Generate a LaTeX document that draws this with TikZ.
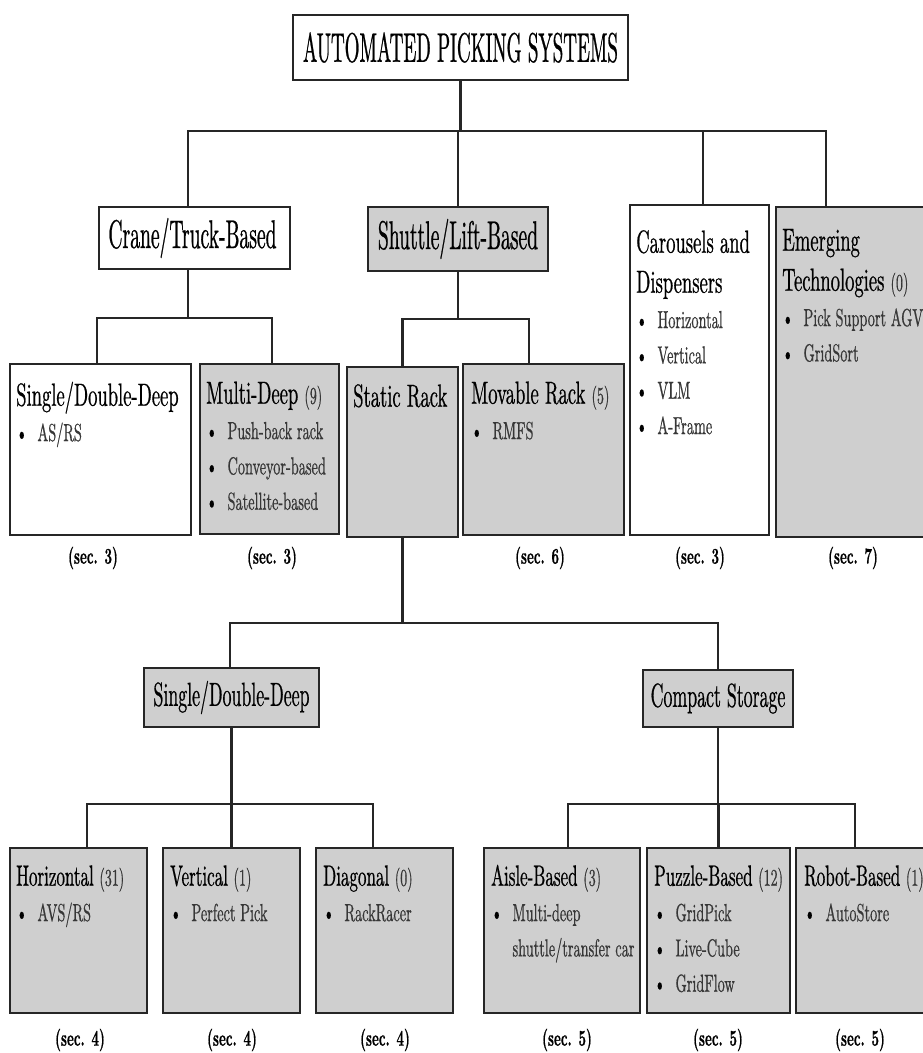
\documentclass[tikz,border=0pt]{standalone}
\usepackage{fontspec}
\setmainfont{lmroman10-regular.otf}[BoldFont=lmroman10-bold.otf, FakeStretch=0.58, FakeBold=0.6]
\newfontfamily\apsfont{lmroman10-regular.otf}[FakeStretch=0.46, FakeBold=0.6]
\newfontfamily\headfont{lmroman10-regular.otf}[FakeStretch=0.49, FakeBold=0.6]
\newfontfamily\subheadfont{lmroman10-regular.otf}[FakeStretch=0.535, FakeBold=0.6]
\usetikzlibrary{calc,fit}

\definecolor{boxgray}{RGB}{207,207,207}
\definecolor{itemgray}{RGB}{55,55,55}

\newcommand{\cnt}[1]{{\fontsize{18}{20}\selectfont\color{itemgray}(#1)}}
\newcommand{\itm}[1]{\par{\fontsize{18.5}{26.5}\selectfont\hangindent=16pt\hangafter=1\noindent\makebox[16pt][l]{\textbullet}\textcolor{itemgray}{#1}\par}}
\newcommand{\boxtext}[1]{\parbox[t]{220pt}{\raggedright #1}}

\tikzset{every picture/.style={line width=0.75pt}}
\tikzset{
  wbox/.style={draw=black!85, line width=1.9pt, fill=white, inner sep=0pt},
  gbox/.style={wbox, fill=boxgray},
  conn/.style={draw=black!85, line width=1.8pt},
  apshead/.style={inner sep=0pt, font=\apsfont\fontsize{31}{36}\selectfont},
  head/.style={inner sep=0pt, font=\headfont\fontsize{30}{34}\selectfont},
  subhead/.style={inner sep=0pt, font=\subheadfont\fontsize{25}{28}\selectfont},
  btext/.style={anchor=base west, inner sep=0pt, font=\fontsize{24}{30}\selectfont},
  bstext/.style={btext, font=\fontsize{22}{28}\selectfont},
  seclabel/.style={font=\bfseries\fontsize{17}{19}\selectfont}
}

\begin{document}
\begin{tikzpicture}[x=0.75pt,y=0.75pt,yscale=-1,xscale=1]
\useasboundingbox (0,0) rectangle (922,1053);

%Top box
\node[wbox, fit={(293,15) (628,80)}] (aps) {};
\node[apshead] (apstxt) at (aps.center) {AUTOMATED PICKING SYSTEMS};

%Second row
\node[wbox, fit={(99,207) (290,269)}] (crane) {};
\node[gbox, fit={(368,207) (548,271)}] (shuttle) {};
\node[wbox, fit={(630,205) (769,535)}] (carousel) {};
\node[gbox, fit={(776,207) (940,537)}] (emerging) {};

% Text Node
\node[head] (cranetxt) at ($(crane.center)+(-2,0)$) {Crane/Truck-Based};
% Text Node
\node[head] (shuttletxt) at (shuttle.center) {Shuttle/Lift-Based};
% Text Node
\node[btext] (carouseltxt) at ($(carousel.north west)+(7,49)$) {\boxtext{Carousels and\\Dispensers\itm{Horizontal}\itm{Vertical}\itm{VLM}\itm{A-Frame}}};
% Text Node
\node[btext] (emergingtxt) at ($(emerging.north west)+(7,45)$) {\boxtext{Emerging\\Technologies \cnt{0}\itm{Pick Support AGV}\itm{GridSort}}};

%Third row
\node[wbox, fit={(10,364) (191,535)}] (sdd) {};
\node[gbox, fit={(200,364) (339,534)}] (multi) {};
\node[gbox, fit={(347,367) (458,537)}] (static) {};
\node[gbox, fit={(463,364) (624,535)}] (movable) {};

% Text Node
\node[btext] (sddtxt) at ($(sdd.north west)+(7,43)$) {\boxtext{Single/Double-Deep\itm{AS/RS}}};
% Text Node
\node[btext] (multitxt) at ($(multi.north west)+(7,41)$) {\boxtext{Multi-Deep \cnt{9}\itm{Push-back rack}\itm{Conveyor-based}\itm{Satellite-based}}};
% Text Node
\node[btext] (statictxt) at ($(static.north west)+(7,41)$) {\boxtext{Static Rack}};
% Text Node
\node[btext] (movabletxt) at ($(movable.north west)+(9,41)$) {\boxtext{Movable Rack \cnt{5}\itm{RMFS}}};

%Fourth row
\node[gbox, fit={(144,668) (319,727)}] (sddstatic) {};
\node[gbox, fit={(643,670) (793,727)}] (compact) {};
\node[subhead] (sddstatictxt) at (sddstatic.center) {Single/Double-Deep};
\node[subhead] (compacttxt) at (compact.center) {Compact Storage};

%Fifth row
\node[gbox, fit={(10,848) (147,1013)}] (horiz) {};
\node[gbox, fit={(163,848) (300,1013)}] (vert) {};
\node[gbox, fit={(316,848) (453,1013)}] (diag) {};
\node[gbox, fit={(484,848) (640,1013)}] (aisle) {};
\node[gbox, fit={(647,848) (790,1013)}] (puzzle) {};
\node[gbox, fit={(796,848) (940,1013)}] (robot) {};

% Text Node
\node[bstext] (horiztxt) at ($(horiz.north west)+(7,39)$) {\boxtext{Horizontal \cnt{31}\itm{AVS/RS}}};
% Text Node
\node[bstext] (verttxt) at ($(vert.north west)+(8,39)$) {\boxtext{Vertical \cnt{1}\itm{Perfect Pick}}};
% Text Node
\node[bstext] (diagtxt) at ($(diag.north west)+(8,39)$) {\boxtext{Diagonal \cnt{0}\itm{RackRacer}}};
% Text Node
\node[bstext] (aisletxt) at ($(aisle.north west)+(8,39)$) {\boxtext{Aisle-Based \cnt{3}\itm{Multi-deep\newline shuttle/transfer car}}};
% Text Node
\node[bstext] (puzzletxt) at ($(puzzle.north west)+(8,39)$) {\boxtext{Puzzle-Based \cnt{12}\itm{GridPick}\itm{Live-Cube}\itm{GridFlow}}};
% Text Node
\node[bstext] (robottxt) at ($(robot.north west)+(9,39)$) {\boxtext{Robot-Based \cnt{1}\itm{AutoStore}}};

%Section labels
\node[seclabel] (secsdd) at (93,558) {(sec. 3)};
\node[seclabel] (secmulti) at (272,558) {(sec. 3)};
\node[seclabel] (secmovable) at (540,558) {(sec. 6)};
\node[seclabel] (seccarousel) at (700,558) {(sec. 3)};
\node[seclabel] (secemerging) at (853,558) {(sec. 7)};
\node[seclabel] (sechoriz) at (80,1040) {(sec. 4)};
\node[seclabel] (secvert) at (232,1040) {(sec. 4)};
\node[seclabel] (secdiag) at (385,1040) {(sec. 4)};
\node[seclabel] (secaisle) at (567,1040) {(sec. 5)};
\node[seclabel] (secpuzzle) at (718,1040) {(sec. 5)};
\node[seclabel] (secrobot) at (860,1040) {(sec. 5)};

%Connectors
\draw[conn] (aps.south) -- ++(0,50) coordinate (bus1);
\foreach \n/\dx in {crane/-6.5, shuttle/0, carousel/3.5, emerging/-32}
  \draw[conn] (bus1) -| ($(\n.north)+(\dx,0)$);

\draw[conn] ($(crane.south)+(-6.5,0)$) -- ++(0,48) coordinate (bus2);
\foreach \n/\dx in {sdd/-3.5, multi/2.5}
  \draw[conn] (bus2) -| ($(\n.north)+(\dx,0)$);

\draw[conn] (shuttle.south) -- ++(0,47) coordinate (bus3);
\foreach \n/\dx in {static/0, movable/-14.5}
  \draw[conn] (bus3) -| ($(\n.north)+(\dx,0)$);

\draw[conn] (static.south) -- ++(0,85) coordinate (bus4);
\foreach \n/\dx in {sddstatic/-1.5, compact/0}
  \draw[conn] (bus4) -| ($(\n.north)+(\dx,0)$);

\draw[conn] (sddstatic.south) -- ++(0,76) coordinate (bus5);
\foreach \n/\dx in {horiz/8.5, vert/0, diag/-11.5}
  \draw[conn] (bus5) -| ($(\n.north)+(\dx,0)$);

\draw[conn] (compact.south) -- ++(0,76) coordinate (bus6);
\foreach \n/\dx in {aisle/6, puzzle/0, robot/-13}
  \draw[conn] (bus6) -| ($(\n.north)+(\dx,0)$);

\end{tikzpicture}
\end{document}
